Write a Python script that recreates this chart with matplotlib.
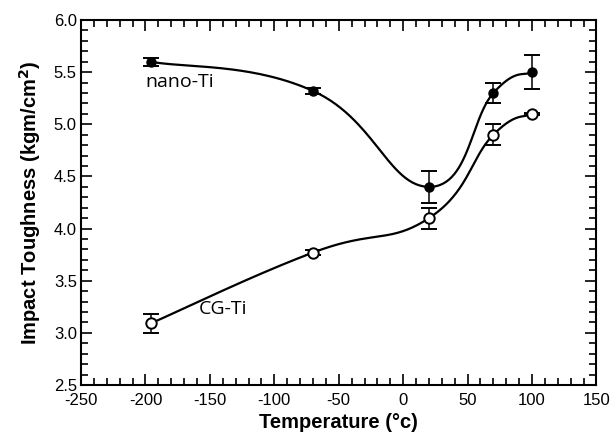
import numpy as np
import matplotlib
matplotlib.use("Agg")
import matplotlib.pyplot as plt
from matplotlib.ticker import MultipleLocator, FormatStrFormatter

plt.rcParams["axes.unicode_minus"] = False

# data
temp = [-196, -70, 20, 70, 100]
nano_ti = [5.60, 5.32, 4.40, 5.30, 5.50]
nano_err = [0.04, 0.03, 0.15, 0.10, 0.16]
cg_ti = [3.09, 3.77, 4.10, 4.90, 5.10]
cg_err = [0.09, 0.02, 0.10, 0.10, 0.01]

xlim = (-250, 150)
ylim = (2.5, 6.0)


def smooth_curve(x, y, n=60, k=4.5):
    """Catmull-Rom style bezier through the points, done in screen-like units"""
    sx = 517 / (xlim[1] - xlim[0])
    sy = 365 / (ylim[1] - ylim[0])
    p = np.column_stack([np.asarray(x, float) * sx, np.asarray(y, float) * sy])
    pp = np.vstack([p[0], p, p[-1]])
    t = np.linspace(0, 1, n)[:, None]
    out = []
    for i in range(len(p) - 1):
        p0, p3 = pp[i + 1], pp[i + 2]
        p1 = p0 + (pp[i + 2] - pp[i]) / k
        p2 = p3 - (pp[i + 3] - pp[i + 1]) / k
        seg = ((1 - t) ** 3 * p0 + 3 * (1 - t) ** 2 * t * p1
               + 3 * (1 - t) * t ** 2 * p2 + t ** 3 * p3)
        out.append(seg)
    out = np.vstack(out)
    return out[:, 0] / sx, out[:, 1] / sy


fig = plt.figure(figsize=(6.1, 4.38), dpi=100)
ax = fig.add_axes([0.1328, 0.121, 0.845, 0.8333])

cx, cy = smooth_curve(temp, nano_ti)
ax.plot(cx, cy, color="black", lw=1.6)
cx, cy = smooth_curve(temp, cg_ti)
ax.plot(cx, cy, color="black", lw=1.6)

ax.errorbar(temp, nano_ti, yerr=nano_err, fmt="o", color="black", ms=6.5,
            capsize=5.8, capthick=1.4, elinewidth=1.1)
ax.errorbar(temp, cg_ti, yerr=cg_err, fmt="o", color="black", mfc="white",
            mew=1.4, ms=7.5, capsize=5.8, capthick=1.4, elinewidth=1.1)

ax.text(-200, 5.41, "nano-Ti", fontsize=14, family="Open Sans", va="center")
ax.text(-159, 3.23, "CG-Ti", fontsize=14, family="Open Sans", va="center")

ax.set_xlim(*xlim)
ax.set_ylim(*ylim)
ax.xaxis.set_major_locator(MultipleLocator(50))
ax.xaxis.set_minor_locator(MultipleLocator(10))
ax.yaxis.set_major_locator(MultipleLocator(0.5))
ax.yaxis.set_minor_locator(MultipleLocator(0.1))
ax.yaxis.set_major_formatter(FormatStrFormatter("%.1f"))
ax.tick_params(which="both", direction="in", top=True, right=True, width=1.2,
               labelsize=12)
ax.tick_params(which="major", length=8)
ax.tick_params(which="minor", length=5)
ax.tick_params(axis="x", pad=6)
ax.tick_params(axis="y", pad=3)
for s in ax.spines.values():
    s.set_linewidth(1.5)
for lab in ax.get_xticklabels() + ax.get_yticklabels():
    lab.set_family("Liberation Sans")

ax.set_xlabel("Temperature (\u00b0c)", fontsize=14.5, fontweight="bold",
              family="Liberation Sans", labelpad=3)
ax.set_ylabel("Impact Toughness (kgm/cm$^\\mathbf{2}$)", fontsize=14.5,
              fontweight="bold", family="Liberation Sans", labelpad=8)

fig.savefig("out.png", dpi=100)
plt.close(fig)
